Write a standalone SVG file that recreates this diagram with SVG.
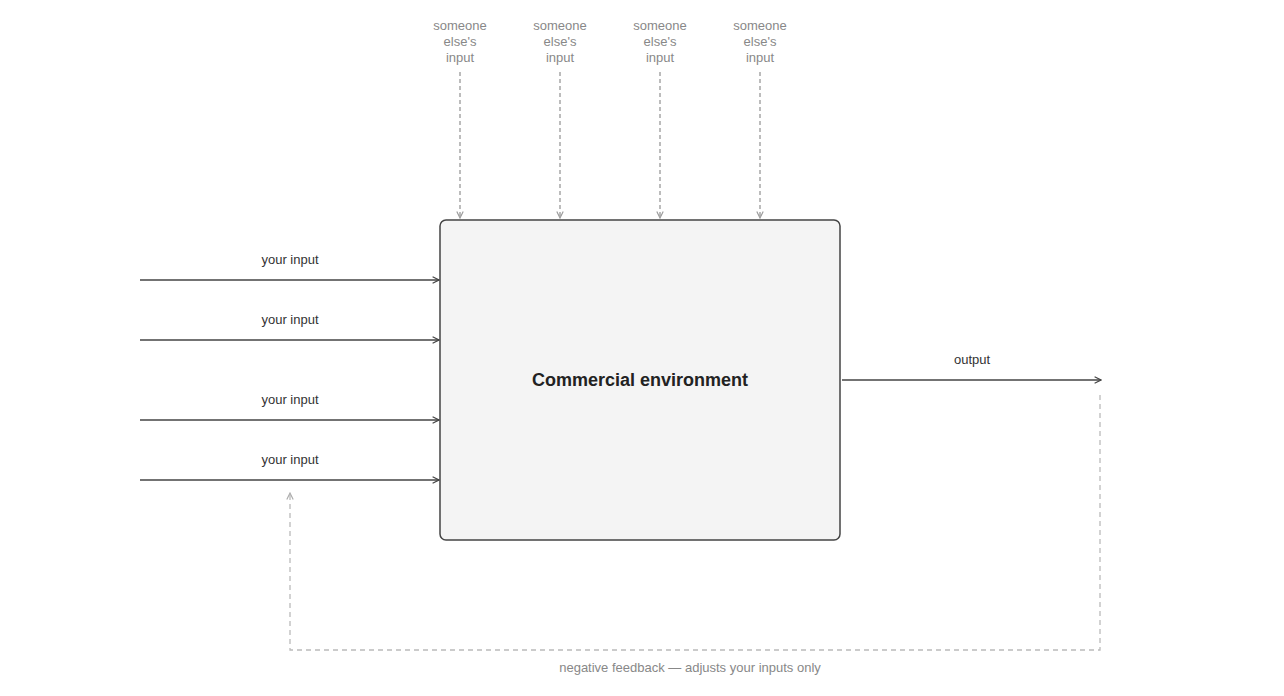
<svg xmlns="http://www.w3.org/2000/svg" width="1284" height="696" viewBox="0 0 1284 696">
<style>
text{font-family:"Liberation Sans",Arial,sans-serif;}
.lbl{font-size:13px;fill:#333;text-anchor:middle;}
.glbl{font-size:13px;fill:#888;text-anchor:middle;}
.solid{stroke:#444;stroke-width:1.5;fill:none;}
.dash{stroke:#999;stroke-width:1.3;stroke-dasharray:4 3;fill:none;}
.fb{stroke:#bbb;stroke-width:1.3;stroke-dasharray:5 4;fill:none;}
</style>
<defs>
<marker id="arr" viewBox="0 0 10 10" refX="9" refY="5" markerWidth="8" markerHeight="8" markerUnits="userSpaceOnUse" orient="auto">
<path d="M1,1 L9,5 L1,9" fill="none" stroke="#444" stroke-width="1.4"/>
</marker>
<marker id="arrg" viewBox="0 0 10 10" refX="9" refY="5" markerWidth="8" markerHeight="8" markerUnits="userSpaceOnUse" orient="auto">
<path d="M1,1 L9,5 L1,9" fill="none" stroke="#999" stroke-width="1.4"/>
</marker>
<marker id="arrl" viewBox="0 0 10 10" refX="9" refY="5" markerWidth="8" markerHeight="8" markerUnits="userSpaceOnUse" orient="auto">
<path d="M1,1 L9,5 L1,9" fill="none" stroke="#aaa" stroke-width="1.4"/>
</marker>
</defs>
<g id="box">
<rect x="440" y="220" width="400" height="320" rx="6" fill="#f4f4f4" stroke="#444" stroke-width="1.5"/>
<text x="640" y="386" text-anchor="middle" font-size="18" font-weight="bold" fill="#222">Commercial environment</text>
</g>
<g id="others">
<text class="glbl" x="460" y="30">someone</text><text class="glbl" x="460" y="46">else's</text><text class="glbl" x="460" y="62">input</text>
<text class="glbl" x="560" y="30">someone</text><text class="glbl" x="560" y="46">else's</text><text class="glbl" x="560" y="62">input</text>
<text class="glbl" x="660" y="30">someone</text><text class="glbl" x="660" y="46">else's</text><text class="glbl" x="660" y="62">input</text>
<text class="glbl" x="760" y="30">someone</text><text class="glbl" x="760" y="46">else's</text><text class="glbl" x="760" y="62">input</text>
</g>
<g id="connectors">
<line class="dash" x1="460" y1="72" x2="460" y2="218" marker-end="url(#arrg)"/>
<line class="dash" x1="560" y1="72" x2="560" y2="218" marker-end="url(#arrg)"/>
<line class="dash" x1="660" y1="72" x2="660" y2="218" marker-end="url(#arrg)"/>
<line class="dash" x1="760" y1="72" x2="760" y2="218" marker-end="url(#arrg)"/>
<line class="solid" x1="140" y1="280" x2="439" y2="280" marker-end="url(#arr)"/>
<line class="solid" x1="140" y1="340" x2="439" y2="340" marker-end="url(#arr)"/>
<line class="solid" x1="140" y1="420" x2="439" y2="420" marker-end="url(#arr)"/>
<line class="solid" x1="140" y1="480" x2="439" y2="480" marker-end="url(#arr)"/>
<line class="solid" x1="842" y1="380" x2="1101" y2="380" marker-end="url(#arr)"/>
<path class="fb" d="M1100,395 L1100,650 L290,650 L290,493" marker-end="url(#arrl)"/>
</g>
<g id="labels">
<text class="lbl" x="290" y="264">your input</text>
<text class="lbl" x="290" y="324">your input</text>
<text class="lbl" x="290" y="404">your input</text>
<text class="lbl" x="290" y="464">your input</text>
<text class="lbl" x="972" y="364">output</text>
<text class="glbl" x="690" y="672">negative feedback — adjusts your inputs only</text>
</g>
</svg>
